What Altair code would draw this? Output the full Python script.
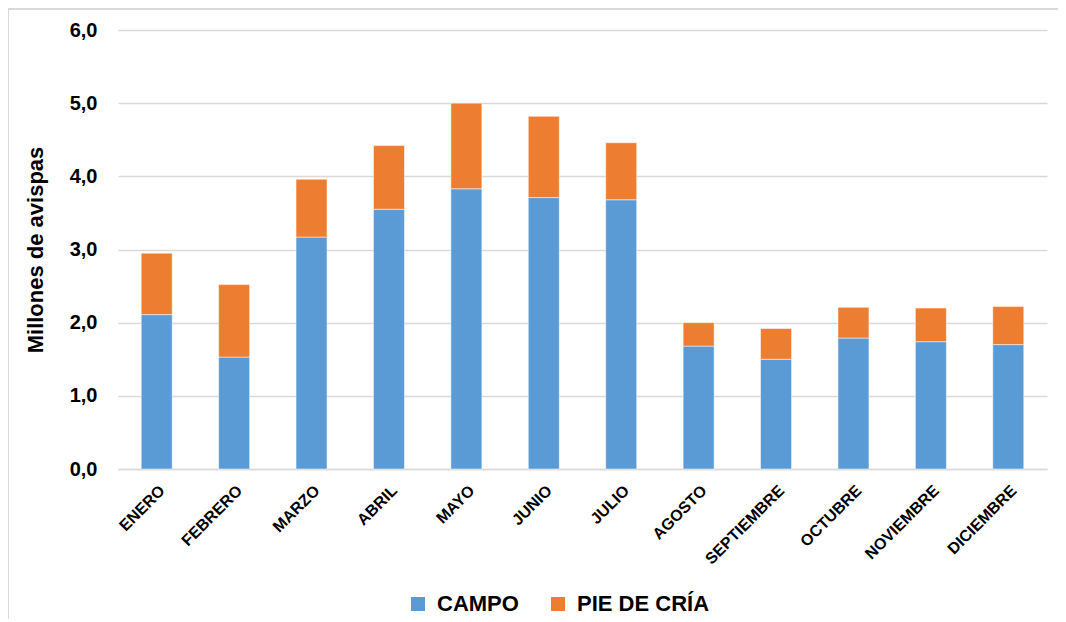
import altair as alt
import pandas as pd

meses = ["ENERO", "FEBRERO", "MARZO", "ABRIL", "MAYO", "JUNIO", "JULIO",
         "AGOSTO", "SEPTIEMBRE", "OCTUBRE", "NOVIEMBRE", "DICIEMBRE"]
campo = [2.11, 1.53, 3.17, 3.55, 3.83, 3.71, 3.68, 1.68, 1.50, 1.79, 1.74, 1.70]
total = [2.95, 2.52, 3.96, 4.42, 5.00, 4.82, 4.46, 2.00, 1.92, 2.21, 2.20, 2.22]
pie_de_cria = [round(t - c, 2) for t, c in zip(total, campo)]
series = ["CAMPO", "PIE DE CRÍA"]
colors = ["#5B9BD5", "#ED7D31"]

rows = []
for m, c, p in zip(meses, campo, pie_de_cria):
    rows.append({"mes": m, "serie": "CAMPO", "valor": c, "orden": 0})
    rows.append({"mes": m, "serie": "PIE DE CRÍA", "valor": p, "orden": 1})
df = pd.DataFrame(rows)

FONT = "Liberation Sans"

bars = alt.Chart(df).mark_bar(size=31, stroke="white", strokeWidth=0.5).encode(
    x=alt.X("mes:N", sort=meses, title=None,
            scale=alt.Scale(paddingInner=0.6, paddingOuter=0.3),
            axis=alt.Axis(labelAngle=-45, labelFont=FONT, labelFontWeight="bold",
                          labelFontSize=16, labelColor="#000000", ticks=False,
                          domainColor="#D9D9D9", domainWidth=1.5, labelPadding=13)),
    y=alt.Y("valor:Q", stack="zero", title="Millones de avispas",
            scale=alt.Scale(domain=[0, 6], nice=False),
            axis=alt.Axis(values=[0, 1, 2, 3, 4, 5, 6], format=".1f",
                          labelExpr="replace(datum.label, '.', ',')",
                          labelFont=FONT, labelFontWeight="bold", labelFontSize=20,
                          labelColor="#000000", ticks=False, domain=False,
                          gridColor="#D9D9D9", gridWidth=1.5, labelPadding=21,
                          titleFont=FONT, titleFontWeight="bold", titleFontSize=22,
                          titleColor="#000000", titlePadding=22)),
    color=alt.Color("serie:N", scale=alt.Scale(domain=series, range=colors),
                    legend=alt.Legend(title=None, orient="none", direction="horizontal",
                                      legendX=289, legendY=563, symbolType="square",
                                      symbolSize=196, symbolStrokeWidth=0,
                                      labelFont=FONT, labelFontWeight="bold",
                                      labelFontSize=22, labelColor="#000000",
                                      columnPadding=28, labelOffset=8)),
    order=alt.Order("orden:Q"),
)

frame_left = alt.Chart(df).mark_rule(color="#D9D9D9", strokeWidth=1.5).encode(
    x=alt.value(-110), y=alt.value(-21), y2=alt.value(600)
)
frame_top = alt.Chart(df).mark_rule(color="#D9D9D9", strokeWidth=1.5).encode(
    x=alt.value(-110), x2=alt.value(960), y=alt.value(-21)
)

chart = alt.layer(frame_left, frame_top, bars).properties(
    width=929, height=439,
    autosize=alt.AutoSizeParams(type="none"),
    padding={"left": 110, "top": 22, "right": 11, "bottom": 150},
    background="white",
).configure_view(strokeWidth=0)

chart.save("out.html", embed_options={"renderer": "svg", "actions": False})
